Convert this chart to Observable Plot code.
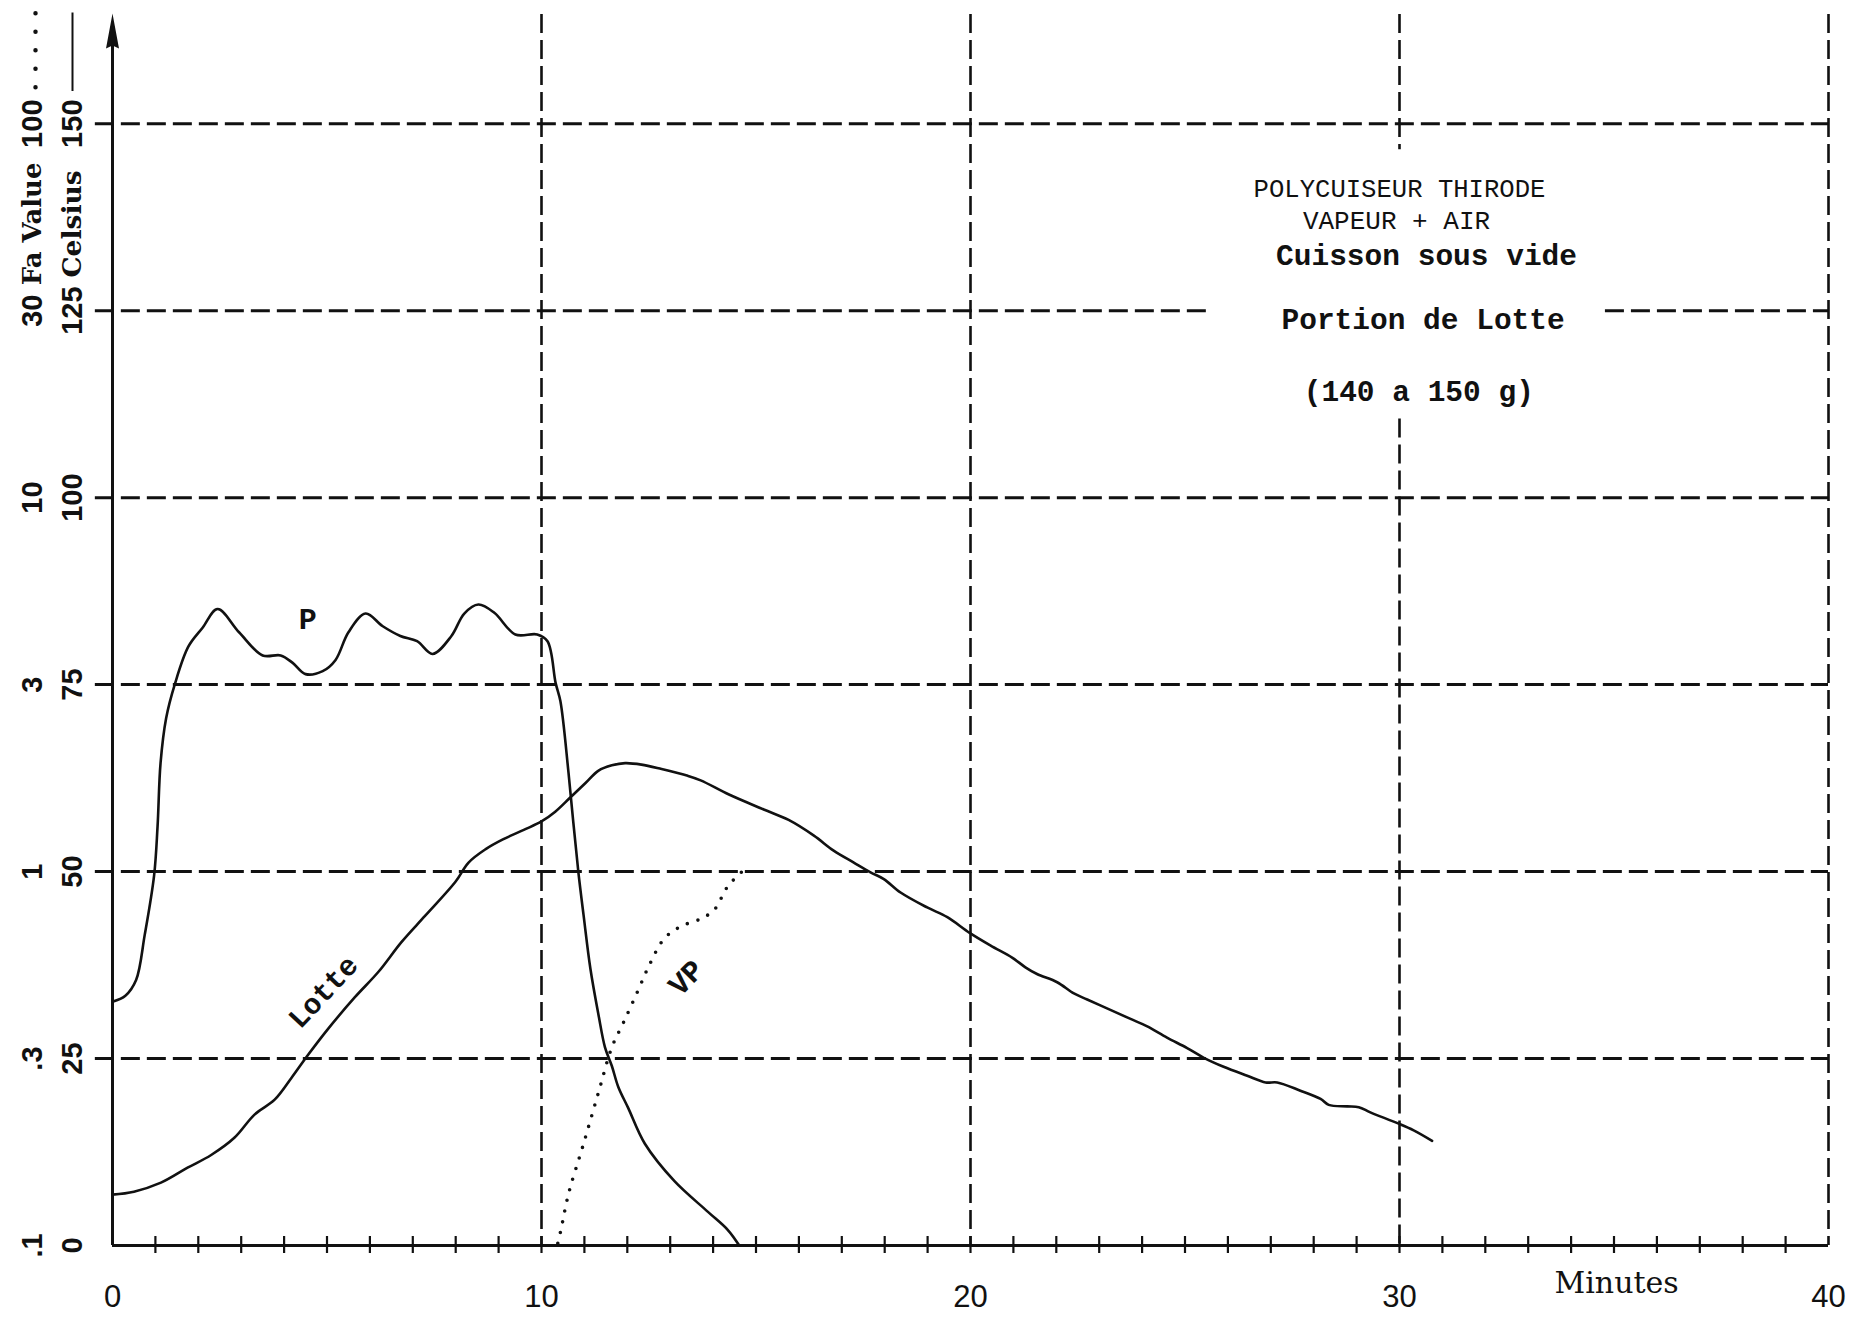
<!DOCTYPE html>
<html>
<head>
<meta charset="utf-8">
<script src="https://cdn.jsdelivr.net/npm/d3@7"></script>
<script src="https://cdn.jsdelivr.net/npm/@observablehq/plot@0.6"></script>
<style>
  html, body { margin: 0; padding: 0; background: #fff; }
  #chart svg { display: block; }
</style>
</head>
<body>
<div id="chart"></div>
<script>
// ---- data ----
// P : chamber temperature (°C)
const pTime = [0, 0.3, 0.55, 0.75, 0.97, 1.05, 1.12, 1.25, 1.45, 1.77, 2.1, 2.45, 2.95, 3.5, 3.92, 4.2, 4.5, 4.9, 5.2, 5.5, 5.9, 6.3, 6.71, 7.1, 7.46, 7.9, 8.2, 8.53, 8.9, 9.39, 9.9, 10.14, 10.33, 10.44, 10.63, 10.75, 10.86, 10.98, 11.14, 11.33, 11.48, 11.64, 11.79, 12.02, 12.41, 13.1, 13.88, 14.34, 14.61];
const pTemp = [32.6, 33.4, 35.5, 41.5, 49.5, 56, 64.5, 70.5, 75.0, 80.1, 82.6, 85.1, 82.0, 78.9, 78.9, 77.9, 76.4, 76.8, 78.3, 82.0, 84.5, 82.8, 81.5, 80.8, 79.1, 81.5, 84.5, 85.7, 84.6, 81.7, 81.7, 80.8, 75.2, 72.8, 63.2, 56.1, 49.9, 44.2, 37.0, 30.8, 26.5, 24.0, 21.2, 18.4, 13.6, 8.6, 4.5, 2.1, 0];
// Lotte : product core temperature (°C)
const lotteTime = [0, 0.5, 1.13, 1.75, 2.3, 2.84, 3.31, 3.78, 4.17, 4.56, 5.03, 5.65, 6.2, 6.74, 7.29, 7.99, 8.3, 8.7, 9.1, 9.6, 10.0, 10.32, 10.67, 11.02, 11.33, 11.64, 11.95, 12.33, 12.8, 13.41, 13.71, 14.37, 15.18, 15.76, 16.35, 16.81, 17.28, 17.67, 17.98, 18.37, 18.99, 19.46, 19.98, 20.47, 20.97, 21.28, 21.55, 22.02, 22.41, 22.72, 23.26, 23.73, 24.12, 24.58, 25.05, 25.44, 25.9, 26.45, 26.88, 27.15, 27.69, 28.16, 28.35, 28.78, 29.05, 29.32, 29.98, 30.33, 30.76];
const lotteTemp = [6.8, 7.2, 8.4, 10.4, 12.1, 14.4, 17.5, 19.5, 22.4, 25.5, 29.0, 33.2, 36.6, 40.6, 44.1, 48.6, 51.2, 53.0, 54.3, 55.6, 56.7, 58.0, 59.9, 61.8, 63.5, 64.2, 64.5, 64.3, 63.7, 62.8, 62.2, 60.3, 58.3, 56.9, 54.8, 52.8, 51.2, 49.9, 49.0, 47.2, 45.2, 43.9, 41.8, 40.1, 38.5, 37.2, 36.3, 35.2, 33.7, 32.9, 31.5, 30.3, 29.3, 27.8, 26.4, 25.1, 23.9, 22.7, 21.8, 21.8, 20.7, 19.6, 18.8, 18.6, 18.5, 17.8, 16.3, 15.4, 14.0];
// VP : pasteurisation value (plotted on the shared vertical axis)
const vpTime = [10.38, 10.45, 10.63, 10.98, 11.33, 11.64, 11.91, 12.25, 12.53, 12.87, 13.26, 13.72, 14.03, 14.34, 14.73];
const vpLevel = [0.3, 2.0, 6.9, 13.6, 20.5, 26.5, 29.8, 34.1, 37.7, 41.1, 42.7, 43.7, 44.9, 48.0, 50.3];

// ---- axes / tick labels ----
const xTickValues = [0, 10, 20, 30, 40];
const minuteTicks = d3.range(1, 40);
const celsiusTicks = [0, 25, 50, 75, 100, 125, 150];
const faLabels = [".1", ".3", "1", "3", "10", "30", "100"];
const gridFull = [25, 50, 75, 100, 150];
const gridSplit = [125];
const vGridFull = [10, 20, 40];
const vGridSplit = [30];
const noteLines = ["POLYCUISEUR THIRODE", "VAPEUR + AIR", "Cuisson sous vide", "Portion de Lotte", "(140 a 150 g)"];

const P = pTime.map((t, i) => ({t, v: pTemp[i]}));
const L = lotteTime.map((t, i) => ({t, v: lotteTemp[i]}));
const V = vpTime.map((t, i) => ({t, v: vpLevel[i]}));
const faTicks = celsiusTicks.map((c, i) => ({c, label: faLabels[i]}));

const INK = "#111";
const MONO = "Liberation Mono";
const SANS = "Liberation Sans";
const SERIF = "DejaVu Serif";
const YTOP = 164.6;

const arrowHead = {
  draw(ctx) {
    ctx.moveTo(0, -1);
    ctx.lineTo(6.5, 34);
    ctx.lineTo(0, 31);
    ctx.lineTo(-6.5, 34);
    ctx.closePath();
  }
};

const dash = {stroke: INK, strokeWidth: 3, strokeDasharray: "19,7"};
const sideText = {frameAnchor: "left", textAnchor: "middle", rotate: -90, fill: INK};

const chart = Plot.plot({
  width: 1864,
  height: 1319,
  marginLeft: 112,
  marginRight: 36,
  marginTop: 14,
  marginBottom: 74,
  x: {domain: [0, 40], axis: null},
  y: {domain: [0, YTOP], axis: null},
  style: {background: "#fff", color: INK, fontFamily: SANS, overflow: "visible"},
  marks: [
    // horizontal dashed grid
    Plot.ruleY(gridFull, {y: d => d, x1: -0.4, x2: 40, ...dash}),
    Plot.ruleY(gridSplit, {y: d => d, x1: -0.4, x2: 25.5, ...dash}),
    Plot.ruleY(gridSplit, {y: d => d, x1: 34.8, x2: 40, ...dash}),
    // vertical dashed grid
    Plot.ruleX(vGridFull, {x: d => d, y1: YTOP, y2: 0, ...dash, strokeWidth: 2.6}),
    Plot.ruleX(vGridSplit, {x: d => d, y1: YTOP, y2: 146.5, ...dash, strokeWidth: 2.6}),
    Plot.ruleX(vGridSplit, {x: d => d, y1: 110.5, y2: 0, ...dash, strokeWidth: 2.6}),
    // axes
    Plot.ruleY([0], {y: d => d, x1: 0, x2: 40, stroke: INK, strokeWidth: 3}),
    Plot.ruleX([0], {x: d => d, y1: 0, y2: 161, stroke: INK, strokeWidth: 3}),
    Plot.dot([YTOP], {x: 0, y: d => d, symbol: arrowHead, fill: INK, stroke: "none"}),
    Plot.ruleX(minuteTicks, {x: d => d, y1: -1.07, y2: 1.2, stroke: INK, strokeWidth: 2.2}),
    // curves
    Plot.line(P, {x: "t", y: "v", curve: "catmull-rom", stroke: INK, strokeWidth: 2.6}),
    Plot.line(L, {x: "t", y: "v", curve: "catmull-rom", stroke: INK, strokeWidth: 2.6}),
    Plot.line(V, {x: "t", y: "v", curve: "catmull-rom", stroke: INK, strokeWidth: 3.6, strokeDasharray: "0,11", strokeLinecap: "round"}),
    // curve labels
    Plot.text(["P"], {x: 4.55, y: 83.7, text: d => d, fontFamily: MONO, fontWeight: "bold", fontSize: 30, fill: INK}),
    Plot.text(["Lotte"], {x: 4.91, y: 33.9, text: d => d, rotate: -47, fontFamily: MONO, fontWeight: "bold", fontSize: 29, fill: INK}),
    Plot.text(["VP"], {x: 13.37, y: 35.8, text: d => d, rotate: -45, fontFamily: MONO, fontWeight: "bold", fontSize: 30, fill: INK}),
    // annotation block
    Plot.text([noteLines[0]], {x: 30.0, y: 141.3, text: d => d, fontFamily: MONO, fontSize: 25.6, fill: INK}),
    Plot.text([noteLines[1]], {x: 29.93, y: 137.0, text: d => d, fontFamily: MONO, fontSize: 26, fill: INK}),
    Plot.text([noteLines[2]], {x: 30.63, y: 132.4, text: d => d, fontFamily: MONO, fontWeight: "bold", fontSize: 29.5, fill: INK}),
    Plot.text([noteLines[3]], {x: 30.55, y: 123.8, text: d => d, fontFamily: MONO, fontWeight: "bold", fontSize: 29.5, fill: INK}),
    Plot.text([noteLines[4]], {x: 30.45, y: 114.2, text: d => d, fontFamily: MONO, fontWeight: "bold", fontSize: 29.5, fill: INK}),
    // x tick labels and title
    Plot.text(xTickValues, {x: d => d, y: 0, dy: 52, text: d => String(d), fontFamily: SANS, fontSize: 31, fill: INK}),
    Plot.text(["Minutes"], {x: 35.06, y: -5.1, text: d => d, fontFamily: SERIF, fontSize: 30, fill: INK}),
    // y tick labels : Celsius (right column) and Fa value (left column)
    Plot.text(celsiusTicks, {y: d => d, dx: -40, text: d => String(d), fontFamily: SANS, fontWeight: "bold", fontSize: 29, ...sideText}),
    Plot.text(faTicks, {y: "c", dx: -80, text: "label", fontFamily: SANS, fontWeight: "bold", fontSize: 29, ...sideText}),
    Plot.text(["Celsius"], {y: 136.6, dx: -40, text: d => d, fontFamily: SERIF, fontWeight: "bold", fontSize: 26.5, ...sideText}),
    Plot.text(["Fa Value"], {y: 136.6, dx: -80, text: d => d, fontFamily: SERIF, fontWeight: "bold", fontSize: 26, ...sideText}),
    // legend samples beside the axis titles
    Plot.ruleX([0], {x: d => d, y1: 154.3, y2: 164.8, dx: -40, stroke: INK, strokeWidth: 2}),
    Plot.ruleX([0], {x: d => d, y1: 154.8, y2: 164.8, dx: -77, stroke: INK, strokeWidth: 4.5, strokeDasharray: "0,18.5", strokeLinecap: "round"})
  ]
});

document.getElementById("chart").appendChild(chart);
</script>
</body>
</html>
